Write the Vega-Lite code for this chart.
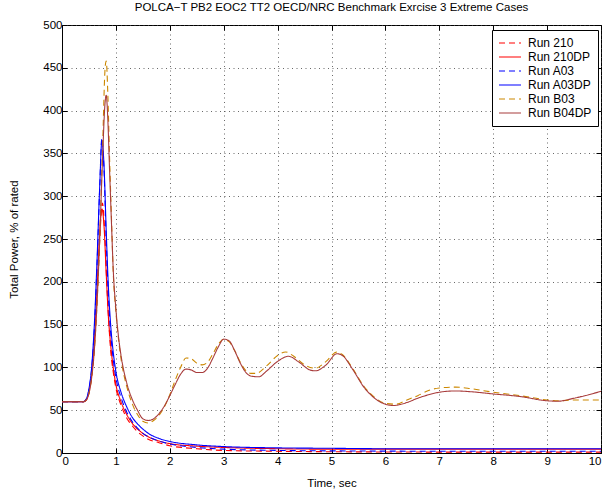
{
  "$schema": "https://vega.github.io/schema/vega-lite/v6.json",
  "autosize": {"type": "none"},
  "width": 539,
  "height": 428,
  "padding": {"left": 62, "top": 25, "right": 10, "bottom": 44},
  "background": "white",
  "config": {
    "font": "Liberation Sans",
    "view": {"stroke": "black", "strokeWidth": 1},
    "axis": {
      "domainColor": "black",
      "tickColor": "black",
      "labelColor": "black",
      "titleColor": "black",
      "labelFont": "Liberation Sans",
      "titleFont": "Liberation Sans",
      "labelFontSize": 11.5,
      "titleFontSize": 11.5,
      "titleFontWeight": "normal",
      "tickSize": -5,
      "gridColor": "#444444",
      "gridDash": [1, 3.5],
      "gridOpacity": 0.8
    }
  },
  "title": {
    "text": "POLCA\u2212T PB2 EOC2 TT2 OECD/NRC Benchmark Exrcise 3 Extreme Cases",
    "font": "Liberation Sans",
    "fontSize": 11.5,
    "fontWeight": "normal",
    "color": "black",
    "offset": 6
  },
  "data": {"values": [
    {"r":"Run 210","t":0,"p":60},{"r":"Run 210","t":0.4,"p":60},{"r":"Run 210","t":0.45,"p":62},{"r":"Run 210","t":0.5,"p":70},{"r":"Run 210","t":0.55,"p":90},{"r":"Run 210","t":0.6,"p":125},{"r":"Run 210","t":0.65,"p":180},{"r":"Run 210","t":0.7,"p":250},{"r":"Run 210","t":0.75,"p":292},{"r":"Run 210","t":0.79,"p":260},{"r":"Run 210","t":0.83,"p":200},{"r":"Run 210","t":0.87,"p":150},{"r":"Run 210","t":0.9,"p":122},{"r":"Run 210","t":0.95,"p":95},{"r":"Run 210","t":1.0,"p":76},{"r":"Run 210","t":1.1,"p":55},{"r":"Run 210","t":1.2,"p":41},{"r":"Run 210","t":1.3,"p":32},{"r":"Run 210","t":1.4,"p":25},{"r":"Run 210","t":1.5,"p":20},{"r":"Run 210","t":1.6,"p":16},{"r":"Run 210","t":1.8,"p":12},{"r":"Run 210","t":2.0,"p":8.5},{"r":"Run 210","t":2.5,"p":5},{"r":"Run 210","t":3.0,"p":3},{"r":"Run 210","t":4.0,"p":2},{"r":"Run 210","t":5.0,"p":1.5},{"r":"Run 210","t":6.0,"p":1.2},{"r":"Run 210","t":8.0,"p":1},{"r":"Run 210","t":10,"p":1},
    {"r":"Run 210DP","t":0,"p":60},{"r":"Run 210DP","t":0.4,"p":60},{"r":"Run 210DP","t":0.45,"p":62},{"r":"Run 210DP","t":0.5,"p":71},{"r":"Run 210DP","t":0.55,"p":92},{"r":"Run 210DP","t":0.6,"p":130},{"r":"Run 210DP","t":0.65,"p":190},{"r":"Run 210DP","t":0.7,"p":258},{"r":"Run 210DP","t":0.74,"p":285},{"r":"Run 210DP","t":0.78,"p":265},{"r":"Run 210DP","t":0.82,"p":210},{"r":"Run 210DP","t":0.86,"p":160},{"r":"Run 210DP","t":0.9,"p":128},{"r":"Run 210DP","t":0.95,"p":100},{"r":"Run 210DP","t":1.0,"p":80},{"r":"Run 210DP","t":1.1,"p":59},{"r":"Run 210DP","t":1.2,"p":45},{"r":"Run 210DP","t":1.3,"p":35},{"r":"Run 210DP","t":1.4,"p":28},{"r":"Run 210DP","t":1.5,"p":23},{"r":"Run 210DP","t":1.6,"p":19},{"r":"Run 210DP","t":1.8,"p":14},{"r":"Run 210DP","t":2.0,"p":11},{"r":"Run 210DP","t":2.5,"p":8},{"r":"Run 210DP","t":3.0,"p":6.5},{"r":"Run 210DP","t":4.0,"p":5},{"r":"Run 210DP","t":5.0,"p":4.5},{"r":"Run 210DP","t":6.0,"p":4.5},{"r":"Run 210DP","t":8.0,"p":4.5},{"r":"Run 210DP","t":10,"p":4.5},
    {"r":"Run A03","t":0,"p":60},{"r":"Run A03","t":0.4,"p":60},{"r":"Run A03","t":0.45,"p":63},{"r":"Run A03","t":0.5,"p":74},{"r":"Run A03","t":0.55,"p":98},{"r":"Run A03","t":0.6,"p":145},{"r":"Run A03","t":0.65,"p":220},{"r":"Run A03","t":0.7,"p":310},{"r":"Run A03","t":0.74,"p":368},{"r":"Run A03","t":0.78,"p":330},{"r":"Run A03","t":0.82,"p":250},{"r":"Run A03","t":0.86,"p":185},{"r":"Run A03","t":0.9,"p":143},{"r":"Run A03","t":0.95,"p":110},{"r":"Run A03","t":1.0,"p":88},{"r":"Run A03","t":1.1,"p":64},{"r":"Run A03","t":1.2,"p":48},{"r":"Run A03","t":1.3,"p":37},{"r":"Run A03","t":1.4,"p":29},{"r":"Run A03","t":1.5,"p":23},{"r":"Run A03","t":1.6,"p":19},{"r":"Run A03","t":1.8,"p":14},{"r":"Run A03","t":2.0,"p":10.5},{"r":"Run A03","t":2.5,"p":6.5},{"r":"Run A03","t":3.0,"p":4.5},{"r":"Run A03","t":4.0,"p":3},{"r":"Run A03","t":5.0,"p":2.5},{"r":"Run A03","t":6.0,"p":2.2},{"r":"Run A03","t":8.0,"p":2},{"r":"Run A03","t":10,"p":2},
    {"r":"Run A03DP","t":0,"p":60},{"r":"Run A03DP","t":0.4,"p":60},{"r":"Run A03DP","t":0.45,"p":63},{"r":"Run A03DP","t":0.5,"p":75},{"r":"Run A03DP","t":0.55,"p":100},{"r":"Run A03DP","t":0.6,"p":150},{"r":"Run A03DP","t":0.65,"p":225},{"r":"Run A03DP","t":0.7,"p":312},{"r":"Run A03DP","t":0.74,"p":365},{"r":"Run A03DP","t":0.78,"p":335},{"r":"Run A03DP","t":0.82,"p":260},{"r":"Run A03DP","t":0.86,"p":195},{"r":"Run A03DP","t":0.9,"p":152},{"r":"Run A03DP","t":0.95,"p":118},{"r":"Run A03DP","t":1.0,"p":95},{"r":"Run A03DP","t":1.1,"p":70},{"r":"Run A03DP","t":1.2,"p":54},{"r":"Run A03DP","t":1.3,"p":42},{"r":"Run A03DP","t":1.4,"p":34},{"r":"Run A03DP","t":1.5,"p":28},{"r":"Run A03DP","t":1.6,"p":23},{"r":"Run A03DP","t":1.8,"p":17},{"r":"Run A03DP","t":2.0,"p":13.5},{"r":"Run A03DP","t":2.5,"p":9.5},{"r":"Run A03DP","t":3.0,"p":7.5},{"r":"Run A03DP","t":4.0,"p":6},{"r":"Run A03DP","t":5.0,"p":5.5},{"r":"Run A03DP","t":6.0,"p":5},{"r":"Run A03DP","t":8.0,"p":5},{"r":"Run A03DP","t":10,"p":5},
    {"r":"Run B03","t":0,"p":60},{"r":"Run B03","t":0.4,"p":60},{"r":"Run B03","t":0.45,"p":62},{"r":"Run B03","t":0.5,"p":70},{"r":"Run B03","t":0.55,"p":88},{"r":"Run B03","t":0.6,"p":120},{"r":"Run B03","t":0.65,"p":175},{"r":"Run B03","t":0.7,"p":250},{"r":"Run B03","t":0.75,"p":350},{"r":"Run B03","t":0.8,"p":450},{"r":"Run B03","t":0.82,"p":458},{"r":"Run B03","t":0.85,"p":420},{"r":"Run B03","t":0.88,"p":350},{"r":"Run B03","t":0.92,"p":270},{"r":"Run B03","t":0.95,"p":212},{"r":"Run B03","t":1.0,"p":165},{"r":"Run B03","t":1.05,"p":132},{"r":"Run B03","t":1.1,"p":108},{"r":"Run B03","t":1.2,"p":78},{"r":"Run B03","t":1.3,"p":58},{"r":"Run B03","t":1.4,"p":45},{"r":"Run B03","t":1.5,"p":37},{"r":"Run B03","t":1.6,"p":35},{"r":"Run B03","t":1.7,"p":38},{"r":"Run B03","t":1.8,"p":44},{"r":"Run B03","t":1.9,"p":54},{"r":"Run B03","t":2.0,"p":68},{"r":"Run B03","t":2.1,"p":85},{"r":"Run B03","t":2.2,"p":100},{"r":"Run B03","t":2.3,"p":111},{"r":"Run B03","t":2.4,"p":110},{"r":"Run B03","t":2.5,"p":105},{"r":"Run B03","t":2.6,"p":103},{"r":"Run B03","t":2.7,"p":106},{"r":"Run B03","t":2.8,"p":116},{"r":"Run B03","t":2.9,"p":127},{"r":"Run B03","t":3.0,"p":133},{"r":"Run B03","t":3.1,"p":130},{"r":"Run B03","t":3.2,"p":120},{"r":"Run B03","t":3.3,"p":107},{"r":"Run B03","t":3.4,"p":97},{"r":"Run B03","t":3.5,"p":93},{"r":"Run B03","t":3.6,"p":93},{"r":"Run B03","t":3.8,"p":102},{"r":"Run B03","t":4.0,"p":114},{"r":"Run B03","t":4.15,"p":118},{"r":"Run B03","t":4.3,"p":113},{"r":"Run B03","t":4.5,"p":103},{"r":"Run B03","t":4.7,"p":99},{"r":"Run B03","t":4.9,"p":107},{"r":"Run B03","t":5.1,"p":118},{"r":"Run B03","t":5.2,"p":115},{"r":"Run B03","t":5.4,"p":98},{"r":"Run B03","t":5.6,"p":78},{"r":"Run B03","t":5.8,"p":65},{"r":"Run B03","t":6.0,"p":58},{"r":"Run B03","t":6.2,"p":57},{"r":"Run B03","t":6.4,"p":62},{"r":"Run B03","t":6.6,"p":67},{"r":"Run B03","t":6.8,"p":73},{"r":"Run B03","t":7.0,"p":76},{"r":"Run B03","t":7.3,"p":77},{"r":"Run B03","t":7.6,"p":75},{"r":"Run B03","t":8.0,"p":71},{"r":"Run B03","t":8.5,"p":67},{"r":"Run B03","t":9.0,"p":62},{"r":"Run B03","t":9.2,"p":61},{"r":"Run B03","t":9.5,"p":62},{"r":"Run B03","t":10,"p":62},
    {"r":"Run B04DP","t":0,"p":60},{"r":"Run B04DP","t":0.4,"p":60},{"r":"Run B04DP","t":0.45,"p":62},{"r":"Run B04DP","t":0.5,"p":70},{"r":"Run B04DP","t":0.55,"p":88},{"r":"Run B04DP","t":0.6,"p":120},{"r":"Run B04DP","t":0.65,"p":175},{"r":"Run B04DP","t":0.7,"p":250},{"r":"Run B04DP","t":0.75,"p":340},{"r":"Run B04DP","t":0.8,"p":410},{"r":"Run B04DP","t":0.82,"p":418},{"r":"Run B04DP","t":0.85,"p":390},{"r":"Run B04DP","t":0.88,"p":335},{"r":"Run B04DP","t":0.92,"p":265},{"r":"Run B04DP","t":0.95,"p":215},{"r":"Run B04DP","t":1.0,"p":168},{"r":"Run B04DP","t":1.05,"p":135},{"r":"Run B04DP","t":1.1,"p":112},{"r":"Run B04DP","t":1.2,"p":82},{"r":"Run B04DP","t":1.3,"p":63},{"r":"Run B04DP","t":1.4,"p":50},{"r":"Run B04DP","t":1.5,"p":40},{"r":"Run B04DP","t":1.6,"p":38},{"r":"Run B04DP","t":1.7,"p":40},{"r":"Run B04DP","t":1.8,"p":46},{"r":"Run B04DP","t":1.9,"p":55},{"r":"Run B04DP","t":2.0,"p":67},{"r":"Run B04DP","t":2.1,"p":80},{"r":"Run B04DP","t":2.2,"p":92},{"r":"Run B04DP","t":2.3,"p":98},{"r":"Run B04DP","t":2.4,"p":97},{"r":"Run B04DP","t":2.5,"p":94},{"r":"Run B04DP","t":2.6,"p":94},{"r":"Run B04DP","t":2.7,"p":99},{"r":"Run B04DP","t":2.8,"p":111},{"r":"Run B04DP","t":2.9,"p":124},{"r":"Run B04DP","t":3.0,"p":133},{"r":"Run B04DP","t":3.1,"p":131},{"r":"Run B04DP","t":3.2,"p":120},{"r":"Run B04DP","t":3.3,"p":106},{"r":"Run B04DP","t":3.4,"p":95},{"r":"Run B04DP","t":3.5,"p":90},{"r":"Run B04DP","t":3.65,"p":89},{"r":"Run B04DP","t":3.8,"p":96},{"r":"Run B04DP","t":4.0,"p":107},{"r":"Run B04DP","t":4.2,"p":113},{"r":"Run B04DP","t":4.4,"p":106},{"r":"Run B04DP","t":4.6,"p":97},{"r":"Run B04DP","t":4.7,"p":96},{"r":"Run B04DP","t":4.9,"p":103},{"r":"Run B04DP","t":5.1,"p":116},{"r":"Run B04DP","t":5.2,"p":114},{"r":"Run B04DP","t":5.4,"p":97},{"r":"Run B04DP","t":5.6,"p":77},{"r":"Run B04DP","t":5.8,"p":64},{"r":"Run B04DP","t":6.0,"p":57},{"r":"Run B04DP","t":6.15,"p":55.5},{"r":"Run B04DP","t":6.4,"p":59},{"r":"Run B04DP","t":6.6,"p":64},{"r":"Run B04DP","t":6.8,"p":68},{"r":"Run B04DP","t":7.0,"p":71},{"r":"Run B04DP","t":7.3,"p":72.5},{"r":"Run B04DP","t":7.6,"p":71.5},{"r":"Run B04DP","t":8.0,"p":69},{"r":"Run B04DP","t":8.5,"p":66},{"r":"Run B04DP","t":9.0,"p":61},{"r":"Run B04DP","t":9.2,"p":60.5},{"r":"Run B04DP","t":9.5,"p":64},{"r":"Run B04DP","t":10,"p":72}
  ]},
  "layer": [
    {
      "mark": {"type": "line", "interpolate": "monotone", "strokeWidth": 1.1, "clip": true},
      "encoding": {
        "x": {"field": "t", "type": "quantitative",
              "scale": {"domain": [0, 10], "nice": false, "zero": false},
              "axis": {"title": "Time, sec", "values": [0,1,2,3,4,5,6,7,8,9,10], "grid": true, "labelPadding": 7, "titlePadding": 11}},
        "y": {"field": "p", "type": "quantitative",
              "scale": {"domain": [0, 500], "nice": false},
              "axis": {"title": "Total Power, % of rated", "values": [0,50,100,150,200,250,300,350,400,450,500], "grid": true, "labelPadding": 5, "titlePadding": 23}},
        "color": {"field": "r", "type": "nominal",
                  "scale": {"domain": ["Run 210","Run 210DP","Run A03","Run A03DP","Run B03","Run B04DP"],
                            "range": ["#ff0000","#ff0000","#0000ff","#0000ff","#cc8800","#a83c3c"]},
                  "legend": {"title": null, "orient": "none", "legendX": 430, "legendY": 5,
                             "strokeColor": "black", "fillColor": "white", "padding": 6,
                             "labelFontSize": 12, "labelFont": "Liberation Sans", "labelColor": "black",
                             "symbolType": "stroke", "symbolSize": 484, "symbolStrokeWidth": 1.2,
                             "clipHeight": 14, "rowPadding": 0, "labelOffset": 6}},
        "strokeDash": {"field": "r", "type": "nominal",
                       "scale": {"domain": ["Run 210","Run 210DP","Run A03","Run A03DP","Run B03","Run B04DP"],
                                 "range": [[6,4],[1,0],[6,4],[1,0],[6,4],[1,0]]},
                       "legend": {"title": null}},
        "order": {"field": "t", "type": "quantitative"}
      }
    },
    {
      "mark": {"type": "rule", "opacity": 0},
      "encoding": {
        "x": {"datum": 0, "type": "quantitative",
              "axis": {"orient": "top", "labels": false, "title": null, "values": [0,1,2,3,4,5,6,7,8,9,10], "grid": false, "domain": false}},
        "y": {"datum": 0, "type": "quantitative",
              "axis": {"orient": "right", "labels": false, "title": null, "values": [0,50,100,150,200,250,300,350,400,450,500], "grid": false, "domain": false}}
      }
    }
  ],
  "resolve": {"axis": {"x": "independent", "y": "independent"}}
}
